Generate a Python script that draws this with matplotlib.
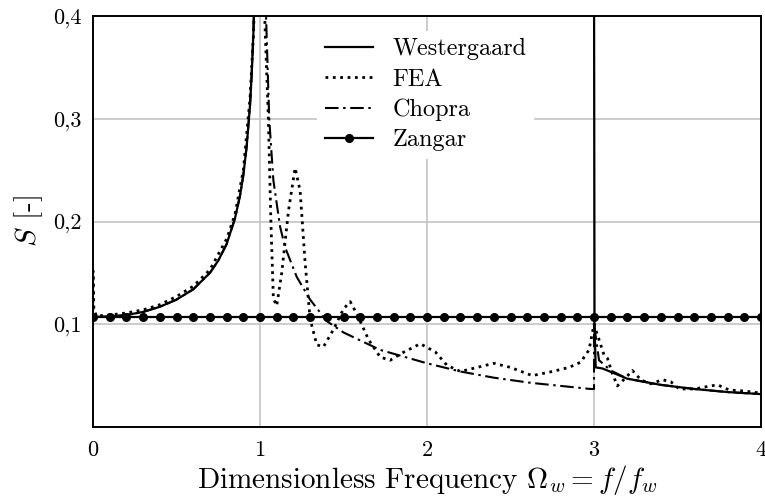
import numpy as np
import matplotlib
matplotlib.use("Agg")
import matplotlib.pyplot as plt
from matplotlib.ticker import FuncFormatter

plt.rcParams['font.family'] = 'serif'
plt.rcParams['font.serif'] = ['cmr10']
plt.rcParams['mathtext.fontset'] = 'cm'
plt.rcParams['axes.unicode_minus'] = False
plt.rcParams['axes.formatter.use_mathtext'] = True

# Westergaard (gap between resonance and 3)
west_x = [0.0, 0.1, 0.2, 0.3, 0.4, 0.5, 0.6, 0.7, 0.75, 0.8, 0.85, 0.88, 0.9,
          0.92, 0.94, 0.95, 0.96, 0.97, 0.98,
          np.nan,
          3.0, 3.003, 3.01, 3.05, 3.2, 3.4, 3.6, 3.8, 4.0]
west_y = [0.107, 0.1075, 0.109, 0.112, 0.117, 0.124, 0.134, 0.150, 0.162, 0.178,
          0.203, 0.225, 0.245, 0.273, 0.313, 0.343, 0.382, 0.44, 0.55,
          np.nan,
          0.45, 0.10, 0.058, 0.057, 0.047, 0.041, 0.037, 0.034, 0.032]

# FEA
fea_x = [0.0, 0.0, 0.005, 0.02, 0.1, 0.2, 0.3, 0.4, 0.5, 0.6, 0.7, 0.8, 0.85,
         0.9, 0.94, 0.96, 0.975, 1.02, 1.03, 1.05, 1.065, 1.08, 1.10, 1.13,
         1.17, 1.21, 1.24, 1.27, 1.30, 1.34, 1.38, 1.44, 1.50, 1.54, 1.58,
         1.65, 1.72, 1.78, 1.85, 1.96, 2.05, 2.12, 2.2, 2.3, 2.4, 2.5, 2.63,
         2.75, 2.85, 2.92, 2.97, 3.0, 3.03, 3.06, 3.08, 3.11, 3.14, 3.19, 3.23,
         3.28, 3.34, 3.41, 3.46, 3.51, 3.6, 3.7, 3.74, 3.81, 3.9, 4.0]
fea_y = [0.107, 0.152, 0.115, 0.108, 0.109, 0.111, 0.114, 0.119, 0.127, 0.137,
         0.153, 0.183, 0.207, 0.25, 0.32, 0.38, 0.45, 0.45, 0.39, 0.30, 0.20,
         0.125, 0.118, 0.15, 0.21, 0.252, 0.23, 0.16, 0.105, 0.080, 0.078,
         0.095, 0.115, 0.122, 0.110, 0.085, 0.068, 0.065, 0.072, 0.081, 0.073,
         0.060, 0.054, 0.058, 0.062, 0.058, 0.050, 0.054, 0.058, 0.063, 0.075,
         0.100, 0.085, 0.070, 0.067, 0.052, 0.040, 0.048, 0.055, 0.046, 0.042,
         0.046, 0.044, 0.037, 0.037, 0.040, 0.041, 0.036, 0.035, 0.033]

# Chopra
chopra_x = [0.0, 0.1, 0.2, 0.3, 0.4, 0.5, 0.6, 0.7, 0.75, 0.8, 0.85, 0.88, 0.9,
            0.92, 0.94, 0.95, 0.96, 0.97, 1.03, 1.036, 1.055, 1.08, 1.12, 1.15,
            1.22, 1.30, 1.40, 1.50, 1.72, 2.0, 2.2, 2.4, 2.62, 2.8, 2.98, 3.0,
            3.0, 3.03, 3.1, 3.2, 3.4, 3.6, 3.8, 4.0]
chopra_y = [0.107, 0.1075, 0.109, 0.112, 0.117, 0.124, 0.134, 0.150, 0.162,
            0.178, 0.203, 0.225, 0.245, 0.273, 0.313, 0.343, 0.382, 0.44, 0.44,
            0.40, 0.30, 0.24, 0.195, 0.175, 0.146, 0.124, 0.103, 0.092, 0.075,
            0.062, 0.054, 0.048, 0.043, 0.040, 0.037, 0.037, 0.10, 0.065,
            0.055, 0.047, 0.041, 0.037, 0.034, 0.032]

# Zangar (constant)
zangar_value = 0.107
zangar_x = np.linspace(0, 4, 41)

fig = plt.figure(figsize=(7.65, 5.0), dpi=100)
ax = fig.add_axes([0.1216, 0.146, 0.8732, 0.822])

ax.plot(west_x, west_y, color='black', lw=1.6, label='Westergaard', zorder=3)
ax.plot(fea_x, fea_y, color='black', lw=2.0, linestyle=':', label='FEA', zorder=3)
ax.plot(chopra_x, chopra_y, color='black', lw=1.5,
        linestyle=(0, (6.5, 2.2, 1.2, 2.2)), label='Chopra', zorder=3)
ax.plot(zangar_x, np.full(len(zangar_x), zangar_value), color='black', lw=1.6,
        marker='o', markersize=5.5, label='Zangar', zorder=3)

ax.set_xlim(0, 4)
ax.set_ylim(0, 0.4)
ax.set_xticks([0, 1, 2, 3, 4])
ax.set_yticks([0.1, 0.2, 0.3, 0.4])
ax.yaxis.set_major_formatter(FuncFormatter(lambda v, p: ('%.1f' % v).replace('.', ',')))
ax.tick_params(axis='both', length=0, labelsize=16)
ax.tick_params(axis='y', pad=8)
ax.tick_params(axis='x', pad=10)
ax.grid(True, color='#c4c4c4', lw=1.2, zorder=0)
ax.set_axisbelow(True)
for s in ax.spines.values():
    s.set_linewidth(1.4)

ax.set_xlabel(r'Dimensionless Frequency $\Omega_w = f/f_w$', fontsize=21, labelpad=2)
ax.set_ylabel(r'$S$ [-]', fontsize=21, labelpad=6)

leg = ax.legend(loc='upper center', bbox_to_anchor=(0.498, 0.993), fontsize=17.5,
                frameon=True, framealpha=1, facecolor='white', edgecolor='none',
                handlelength=2.0, handletextpad=0.8, labelspacing=0.33, borderpad=0.3)
leg.get_frame().set_boxstyle('square', pad=0)

fig.savefig('out.png', dpi=100)
